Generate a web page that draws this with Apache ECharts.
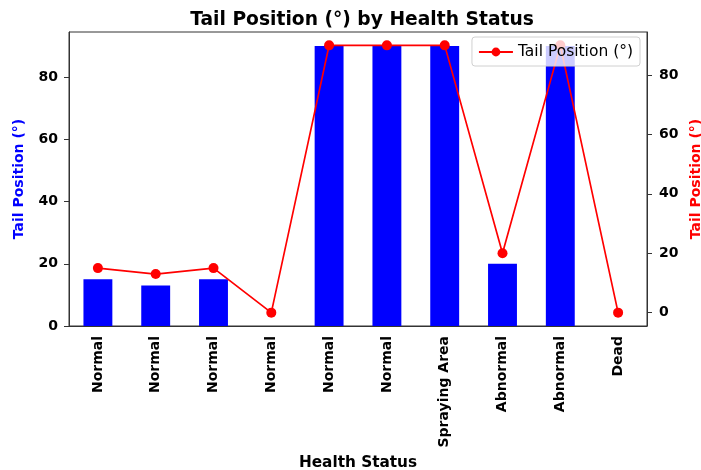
<!DOCTYPE html>
<html><head><meta charset="utf-8">
<script src="https://cdn.jsdelivr.net/npm/echarts@6/dist/echarts.min.js"></script>
<style>html,body{margin:0;padding:0;background:#fff}#c{width:701px;height:470px}</style>
</head><body><div id="c"></div>
<script>
var categories = ["Normal","Normal","Normal","Normal","Normal","Normal","Spraying Area","Abnormal","Abnormal","Dead"];
var barValues = [15,13,15,0,90,90,90,20,90,0];
var lineValues = [15,13,15,0,90,90,90,20,90,0];
var tickValues = [0,20,40,60,80];

var F = 'DejaVu Sans';
var chart = echarts.init(document.getElementById('c'), null, {renderer:'canvas'});
chart.setOption({
  animation:false,
  backgroundColor:'#fff',
  title:{text:'Tail Position (°) by Health Status', left:357, top:6, textAlign:'center',
    textStyle:{fontFamily:F, fontSize:18.7, fontWeight:'bold', color:'#000'}},
  legend:{data:[{name:'Tail Position (°)'}], right:61, top:37, orient:'horizontal',
    itemWidth:34, itemHeight:11, itemGap:10,
    borderColor:'#d0d0d0', borderWidth:1, borderRadius:3, padding:[7,7,6,6],
    backgroundColor:'rgba(255,255,255,0.8)',
    textStyle:{fontFamily:F, fontSize:15.5, color:'#000'}},
  grid:{left:69, right:54, top:32, bottom:144, outerBoundsMode:'none', containLabel:false,
    show:true, borderColor:'#333', borderWidth:1, backgroundColor:'transparent'},
  xAxis:{type:'category', data:categories, name:'Health Status', nameLocation:'middle', nameGap:128,
    nameTextStyle:{fontFamily:F, fontSize:15.3, fontWeight:'bold', color:'#000'},
    axisLine:{lineStyle:{color:'#333'}},
    axisTick:{alignWithLabel:true, length:5, lineStyle:{color:'#333'}},
    axisLabel:{rotate:90, interval:0, margin:10, fontFamily:F, fontSize:14, fontWeight:'bold', color:'#000'}},
  yAxis:[
    {type:'value', min:0, max:94.5, position:'left',
     name:'Tail Position (°)', nameLocation:'middle', nameGap:43,
     nameTextStyle:{fontFamily:F, fontSize:14, fontWeight:'bold', color:'#0000ff'},
     axisLine:{show:true, lineStyle:{color:'#333'}},
     axisTick:{show:true, length:5, customValues:tickValues, lineStyle:{color:'#333'}},
     axisLabel:{customValues:tickValues, margin:11, fontFamily:F, fontSize:14, fontWeight:'bold', color:'#000'},
     splitLine:{show:false}},
    {type:'value', min:-4.5, max:94.5, position:'right',
     name:'Tail Position (°)', nameLocation:'middle', nameGap:39, nameRotate:90,
     nameTextStyle:{fontFamily:F, fontSize:14, fontWeight:'bold', color:'#ff0000'},
     axisLine:{show:true, lineStyle:{color:'#333'}},
     axisTick:{show:true, length:5, customValues:tickValues, lineStyle:{color:'#333'}},
     axisLabel:{customValues:tickValues, margin:12, fontFamily:F, fontSize:14, fontWeight:'bold', color:'#000'},
     splitLine:{show:false}}
  ],
  series:[
    {name:'bars', type:'bar', data:barValues, yAxisIndex:0, barWidth:'50%',
     itemStyle:{color:'#0000ff'}, z:1},
    {name:'Tail Position (°)', type:'line', data:lineValues, yAxisIndex:1,
     symbol:'circle', symbolSize:10, lineStyle:{color:'#ff0000', width:1.7},
     itemStyle:{color:'#ff0000'}, z:3}
  ]
});
</script></body></html>
